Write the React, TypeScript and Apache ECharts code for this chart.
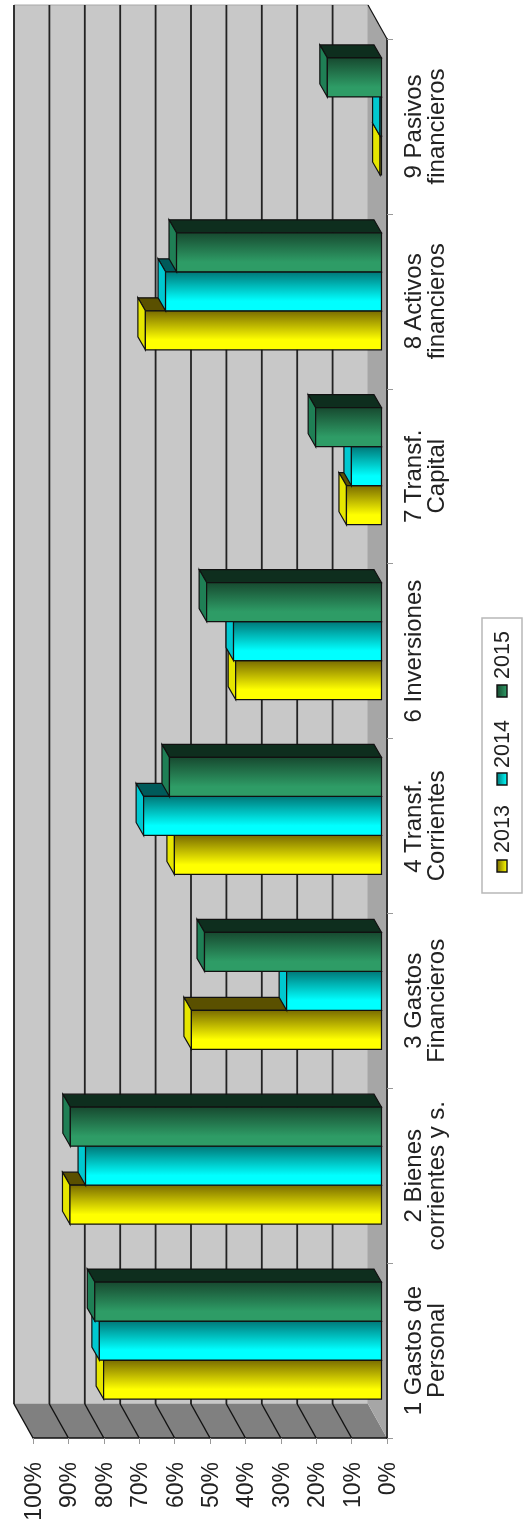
import React, { useEffect, useRef } from "react";
import * as echarts from "echarts";

const categories = [
  "1 Gastos de\nPersonal",
  "2 Bienes\ncorrientes y s.",
  "3 Gastos\nFinancieros",
  "4 Transf.\nCorrientes",
  "6 Inversiones",
  "7 Transf.\nCapital",
  "8 Activos\nfinancieros",
  "9 Pasivos\nfinancieros",
];
const years = ["2013", "2014", "2015"];
const values2013 = [78.5, 88, 53.7, 58.5, 41.2, 9.9, 66.7, 0.4];
const values2014 = [79.7, 83.6, 26.8, 67.2, 41.8, 8.5, 61, 0.4];
const values2015 = [81, 87.9, 50, 59.9, 49.4, 18.6, 57.9, 15.3];
const wallTicks = [10, 20, 30, 40, 50, 60, 70, 80, 90, 100];

const FONT = "Liberation Sans";
const WALL_DX = -19;
const WALL_DY = -34;
const BAR_DX = -7.5;
const BAR_DY = -13;
const BAR_FRONT_DX = -5.5;
const BAR_FRONT_DY = -10;
const BAR_H = 39;
const STROKE = "#111";

const palettes = [
  { dark: "#7a6c00", bright: "#ffff00", side: "#e6e600", top: "#5a5000" },
  { dark: "#007878", bright: "#00ffff", side: "#00c8d0", top: "#005a5a" },
  { dark: "#174a30", bright: "#2e9c66", side: "#1f7f55", top: "#0e2e1e" },
];

function wallItem(_p: any, api: any) {
  const band = api.size([0, 1])[1];
  const x0 = api.coord([0, 0])[0];
  const x100 = api.coord([100, 0])[0];
  const yB = api.coord([0, 0])[1] + band / 2;
  const yT = api.coord([0, categories.length - 1])[1] - band / 2;
  const children: any[] = [
    {
      type: "polygon",
      shape: { points: [[x100 + WALL_DX, yT + WALL_DY], [x0 + WALL_DX, yT + WALL_DY], [x0 + WALL_DX, yB + WALL_DY], [x100 + WALL_DX, yB + WALL_DY]] },
      style: { fill: "#c8c8c8", stroke: "#a8a8a8", lineWidth: 1 },
    },
    {
      type: "polygon",
      shape: { points: [[x100 + WALL_DX, yB + WALL_DY], [x0 + WALL_DX, yB + WALL_DY], [x0, yB], [x100, yB]] },
      style: { fill: "#808080" },
    },
    {
      type: "polygon",
      shape: { points: [[x0 + WALL_DX, yT + WALL_DY], [x0, yT], [x0, yB], [x0 + WALL_DX, yB + WALL_DY]] },
      style: { fill: "#a6a6a6" },
    },
    {
      type: "line",
      shape: { x1: x0 + WALL_DX, y1: yT + WALL_DY, x2: x0, y2: yT },
      style: { stroke: "#111", lineWidth: 1.2 },
    },
  ];
  wallTicks.forEach((t) => {
    const x = api.coord([t, 0])[0];
    children.push({
      type: "line",
      shape: { x1: x + WALL_DX, y1: yT + WALL_DY, x2: x + WALL_DX, y2: yB + WALL_DY },
      style: { stroke: "#222", lineWidth: 1.8 },
    });
    children.push({
      type: "line",
      shape: { x1: x + WALL_DX, y1: yB + WALL_DY, x2: x, y2: yB },
      style: { stroke: "#111", lineWidth: 1.4 },
    });
  });
  return { type: "group", children };
}

function barRenderer(seriesIdx: number) {
  return (_p: any, api: any) => {
    const v = api.value(0);
    const idx = api.value(1);
    const c = api.coord([v, idx]);
    const xv = c[0] + BAR_FRONT_DX;
    const x0 = api.coord([0, idx])[0] + BAR_FRONT_DX;
    const cy = c[1] + BAR_FRONT_DY;
    const yBot = cy + (BAR_H * 3) / 2 - BAR_H * seriesIdx;
    const yTop = yBot - BAR_H;
    const pal = palettes[seriesIdx];
    return {
      type: "group",
      children: [
        {
          type: "polygon",
          shape: { points: [[xv, yTop], [x0, yTop], [x0 + BAR_DX, yTop + BAR_DY], [xv + BAR_DX, yTop + BAR_DY]] },
          style: { fill: pal.top, stroke: STROKE, lineWidth: 1.2 },
        },
        {
          type: "polygon",
          shape: { points: [[xv, yBot], [xv, yTop], [xv + BAR_DX, yTop + BAR_DY], [xv + BAR_DX, yBot + BAR_DY]] },
          style: { fill: pal.side, stroke: STROKE, lineWidth: 1.2 },
        },
        {
          type: "rect",
          shape: { x: xv, y: yTop, width: x0 - xv, height: BAR_H },
          style: {
            stroke: STROKE,
            lineWidth: 1.2,
            fill: new echarts.graphic.LinearGradient(0, 0, 0, 1, [
              { offset: 0, color: pal.dark },
              { offset: 0.75, color: pal.bright },
              { offset: 1, color: pal.bright },
            ]),
          },
        },
      ],
    };
  };
}

function legendGraphics() {
  const swatchY = [860, 773, 685];
  const textY = [829, 744, 655];
  const items: any[] = [
    {
      type: "rect",
      shape: { x: 482, y: 618, width: 40, height: 275 },
      style: { fill: "#fff", stroke: "#b8b8b8", lineWidth: 1.5 },
    },
  ];
  years.forEach((y, i) => {
    items.push({
      type: "rect",
      shape: { x: 497, y: swatchY[i], width: 10, height: 12 },
      style: {
        stroke: "#111",
        lineWidth: 1.4,
        fill: new echarts.graphic.LinearGradient(1, 0, 0, 0, [
          { offset: 0, color: palettes[i].bright },
          { offset: 1, color: palettes[i].dark },
        ]),
      },
    });
    items.push({
      type: "text",
      x: 502,
      y: textY[i],
      rotation: Math.PI / 2,
      style: { text: y, fontFamily: FONT, fontSize: 21.5, fill: "#222", align: "center", verticalAlign: "middle" },
    });
  });
  return items;
}

export default function App() {
  const ref = useRef<HTMLDivElement>(null);
  useEffect(() => {
    document.body.style.margin = "0";
    const chart = echarts.init(ref.current!, null, { renderer: "svg" });
    const seriesValues = [values2013, values2014, values2015];
    chart.setOption({
      animation: false,
      backgroundColor: "#fff",
      grid: { left: 33, right: 140, top: 39, bottom: 88 },
      xAxis: {
        type: "value",
        inverse: true,
        min: 0,
        max: 100,
        interval: 10,
        z: 10,
        splitLine: { show: false },
        axisLine: { show: true, lineStyle: { color: "#111", width: 1.5 } },
        axisTick: { show: true, length: 6, lineStyle: { color: "#999" } },
        axisLabel: { rotate: 90, margin: 24, fontFamily: FONT, fontSize: 23, color: "#222", formatter: "{value}%" },
      },
      yAxis: {
        type: "category",
        position: "right",
        data: categories,
        z: 10,
        splitLine: { show: false },
        axisLine: { show: true, lineStyle: { color: "#333", width: 2 } },
        axisTick: { show: true, length: 6, lineStyle: { color: "#999" } },
        axisLabel: { interval: 0, rotate: 90, margin: 14, fontFamily: FONT, fontSize: 24, lineHeight: 23, color: "#222" },
      },
      graphic: legendGraphics(),
      series: [
        { type: "custom", name: "wall", z: 1, silent: true, renderItem: wallItem, data: [[0, 0]], encode: { x: 0, y: 1 } },
        ...years.map((y, i) => ({
          type: "custom",
          name: y,
          z: 3 + i,
          renderItem: barRenderer(i),
          data: seriesValues[i].map((v, k) => [v, k]),
          encode: { x: 0, y: 1 },
        })),
      ],
    });
    return () => chart.dispose();
  }, []);
  return <div ref={ref} style={{ position: "absolute", left: 0, top: 0, width: 527, height: 1526, filter: "blur(0.6px)" }} />;
}
